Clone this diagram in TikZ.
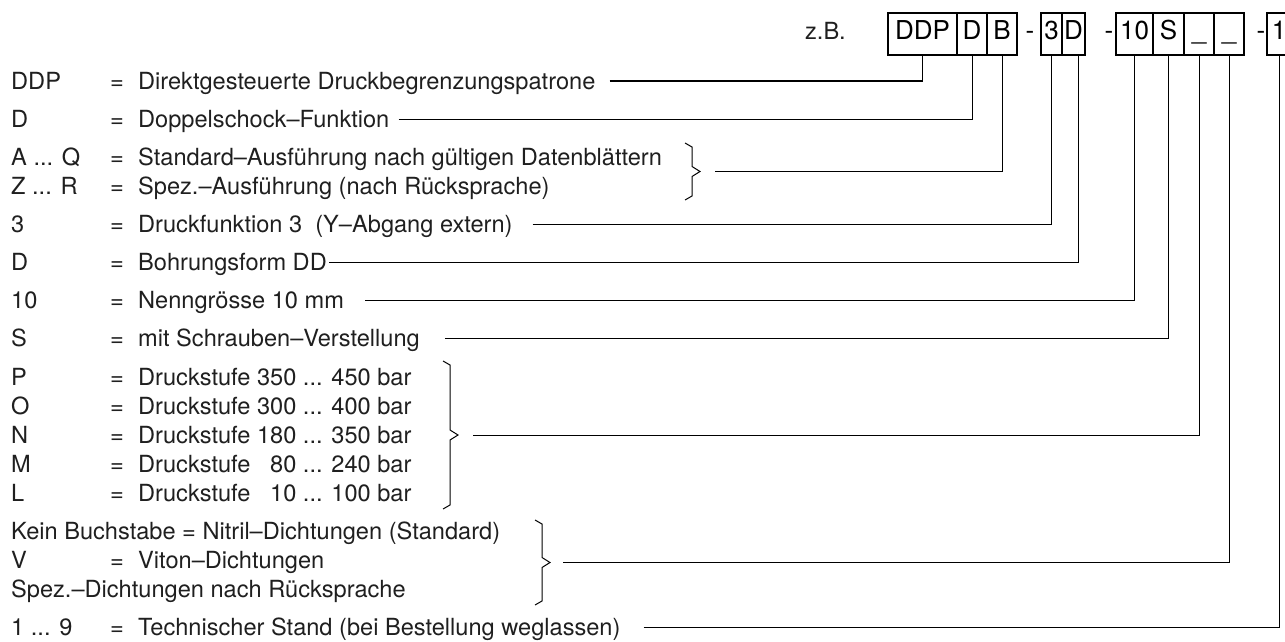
\documentclass[tikz,border=0pt]{standalone}
\usepackage{fontspec}
\setmainfont{TeX Gyre Heros}
\usetikzlibrary{positioning}

% Klammer: x, oben, unten, Name der Spitze
\newcommand\klammer[4]{%
  \draw[verb] (#1-7,#2) -- (#1,#2+4) -- (#1,{(#2+#3)/2-5}) -- (#1+8,{(#2+#3)/2}) coordinate (#4)
    -- (#1,{(#2+#3)/2+5}) -- (#1,#3-4) -- (#1-7,#3);}
\newcommand\pkt{...}

\begin{document}
\begin{tikzpicture}[x=1pt,y=-1pt,
    txt/.style={anchor=west,inner sep=0pt,text height=22pt,text depth=5pt,text=black!88,
      font=\fontsize{23.6}{28}\selectfont},
    zelle/.style={draw,line width=1.1pt,outer sep=0pt,inner sep=0pt,minimum height=42pt,
      text height=14pt,text depth=2pt,font=\fontsize{26}{30}\selectfont},
    verb/.style={line width=1pt}]
\useasboundingbox (0,0) rectangle (1285,642);

% Typenschluessel
\node[txt,anchor=east] (zb) at (846,31) {z.B.};
\node[zelle,minimum width=69pt] (cDDP) at (922.5,34) {DDP};
\node[zelle,minimum width=30pt,right=0pt of cDDP] (cD) {D};
\node[zelle,minimum width=30pt,right=0pt of cD] (cB) {B};
\node[zelle,minimum width=21pt,right=24pt of cB] (c3) {3};
\node[zelle,minimum width=23pt,right=0pt of c3] (cD2) {D};
\node[zelle,minimum width=37pt,right=31pt of cD2] (c10) {10};
\node[zelle,minimum width=31pt,right=0pt of c10] (cS) {S};
\node[zelle,minimum width=30pt,right=0pt of cS] (cX) {\_};
\node[zelle,minimum width=30pt,right=0pt of cX] (cY) {\_};
\node[zelle,minimum width=24pt,right=23pt of cY] (c1) {1};
\node[zelle,draw=none] (s1) at (1030,34) {-};
\node[zelle,draw=none] (s2) at (1109,34) {-};
\node[zelle,draw=none] (s3) at (1261,34) {-};

% Legende
\foreach \n/\y/\c/\t in {
    DDP/81/DDP/Direktgesteuerte Druckbegrenzungspatrone,
    D/119/D/Doppelschock–Funktion,
    AQ/157/{A \pkt{} Q}/Standard–Ausführung nach gültigen Datenblättern,
    ZR/186/{Z \pkt{} R}/Spez.–Ausführung (nach Rücksprache),
    3/224/3/Druckfunktion 3\ \ (Y–Abgang extern),
    Db/262/D/Bohrungsform DD,
    10/300/10/Nenngrösse 10 mm,
    S/338/S/mit Schrauben–Verstellung,
    P/377/P/{Druckstufe 350 \pkt{} 450 bar},
    O/406/O/{Druckstufe 300 \pkt{} 400 bar},
    N/435/N/{Druckstufe 180 \pkt{} 350 bar},
    M/464/M/{Druckstufe \phantom{0}80 \pkt{} 240 bar},
    L/493/L/{Druckstufe \phantom{0}10 \pkt{} 100 bar},
    V/560/V/Viton–Dichtungen,
    T/627/{1 \pkt{} 9}/Technischer Stand (bei Bestellung weglassen)}
{
  \node[txt] (k\n) at (11,\y) {\c};
  \node[txt] (g\n) at (110,\y) {=};
  \node[txt] (t\n) at (138,\y) {\t};
}
\node[txt] (tKein) at (11,531) {Kein Buchstabe = Nitril–Dichtungen (Standard)};
\node[txt] (tSpez) at (11,589) {Spez.–Dichtungen nach Rücksprache};

\klammer{692}{143}{200}{bAQ}
\klammer{450}{361}{509}{bPL}
\klammer{542}{520}{605}{bKV}

\draw[verb] ([xshift=14pt]tDDP.east) -| (cDDP.south);
\draw[verb] ([xshift=9pt]tD.east) -| (cD.south);
\draw[verb] ([xshift=15pt]bAQ) -| (cB.south);
\draw[verb] ([xshift=20pt]t3.east) -| (c3.south);
\draw[verb] ([xshift=2pt]tDb.east) -| ([xshift=4.5pt]cD2.south);
\draw[verb] ([xshift=21pt]t10.east) -| (c10.south);
\draw[verb] ([xshift=25pt]tS.east) -| (cS.south);
\draw[verb] ([xshift=15pt]bPL) -| (cX.south);
\draw[verb] ([xshift=13pt]bKV) -| (cY.south);
\draw[verb] ([xshift=23pt]tT.east) -| (c1.south);
\end{tikzpicture}
\end{document}
